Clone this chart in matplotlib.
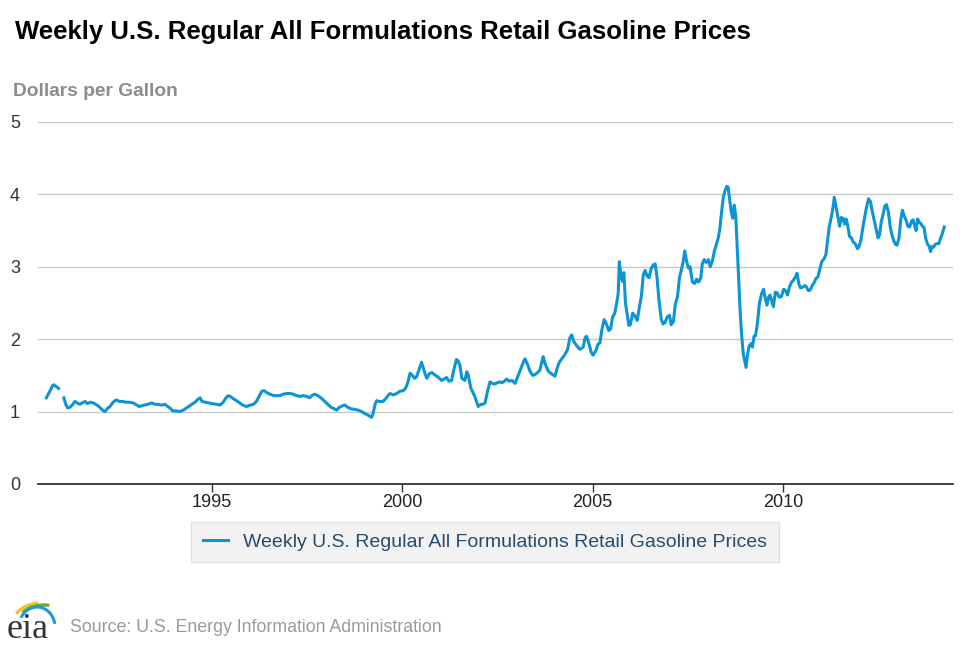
import numpy as np
import matplotlib
matplotlib.use("Agg")
import matplotlib.pyplot as plt
from matplotlib.patches import Arc

plt.rcParams["font.family"] = ["Liberation Sans", "DejaVu Sans"]

TITLE = "Weekly U.S. Regular All Formulations Retail Gasoline Prices"
Y_LABEL = "Dollars per Gallon"
SOURCE = "Source: U.S. Energy Information Administration"
LINE_COLOR = "#0b95d5"

# decimal year / dollars per gallon (NaN = gap in early 1991)
weeks = [
    1990.64, 1990.68, 1990.72, 1990.76, 1990.80, 1990.84, 1990.88, 1990.92, 1990.96, 1991.04,
    1991.10, 1991.15, 1991.20, 1991.26, 1991.32, 1991.39, 1991.45, 1991.52, 1991.58, 1991.66,
    1991.72, 1991.80, 1991.87, 1991.94, 1992.00, 1992.06, 1992.12, 1992.18, 1992.24, 1992.31,
    1992.38, 1992.44, 1992.49, 1992.56, 1992.65, 1992.72, 1992.80, 1992.92, 1993.02, 1993.08,
    1993.14, 1993.22, 1993.30, 1993.41, 1993.50, 1993.58, 1993.66, 1993.76, 1993.83, 1993.89,
    1993.96, 1994.06, 1994.14, 1994.24, 1994.35, 1994.46, 1994.55, 1994.62, 1994.68, 1994.73,
    1994.81, 1994.90, 1995.00, 1995.12, 1995.20, 1995.29, 1995.36, 1995.42, 1995.47, 1995.55,
    1995.64, 1995.72, 1995.80, 1995.90, 1996.00, 1996.08, 1996.16, 1996.24, 1996.30, 1996.36,
    1996.44, 1996.52, 1996.62, 1996.70, 1996.78, 1996.86, 1996.96, 1997.04, 1997.13, 1997.22,
    1997.30, 1997.40, 1997.48, 1997.56, 1997.64, 1997.70, 1997.78, 1997.88, 1997.96, 1998.04,
    1998.12, 1998.20, 1998.27, 1998.34, 1998.42, 1998.49, 1998.56, 1998.64, 1998.75, 1998.84,
    1998.93, 1999.02, 1999.10, 1999.19, 1999.23, 1999.28, 1999.32, 1999.40, 1999.49, 1999.56,
    1999.62, 1999.67, 1999.76, 1999.85, 1999.93, 2000.02, 2000.08, 2000.14, 2000.20, 2000.26,
    2000.32, 2000.37, 2000.44, 2000.50, 2000.55, 2000.60, 2000.64, 2000.70, 2000.77, 2000.84,
    2000.90, 2000.97, 2001.03, 2001.10, 2001.16, 2001.22, 2001.29, 2001.35, 2001.42, 2001.46,
    2001.51, 2001.56, 2001.64, 2001.69, 2001.73, 2001.80, 2001.90, 2001.99, 2002.06, 2002.12,
    2002.17, 2002.24, 2002.30, 2002.36, 2002.42, 2002.50, 2002.56, 2002.62, 2002.68, 2002.74,
    2002.80, 2002.88, 2002.96, 2003.02, 2003.09, 2003.16, 2003.22, 2003.28, 2003.35, 2003.42,
    2003.48, 2003.55, 2003.61, 2003.66, 2003.70, 2003.75, 2003.83, 2003.92, 2004.01, 2004.06,
    2004.12, 2004.20, 2004.27, 2004.34, 2004.40, 2004.45, 2004.50, 2004.58, 2004.66, 2004.75,
    2004.80, 2004.84, 2004.90, 2004.96, 2005.01, 2005.08, 2005.14, 2005.19, 2005.24, 2005.30,
    2005.36, 2005.42, 2005.47, 2005.52, 2005.58, 2005.63, 2005.67, 2005.70, 2005.74, 2005.78,
    2005.82, 2005.86, 2005.90, 2005.95, 2005.99, 2006.05, 2006.11, 2006.17, 2006.22, 2006.28,
    2006.33, 2006.38, 2006.43, 2006.48, 2006.54, 2006.60, 2006.64, 2006.69, 2006.74, 2006.80,
    2006.85, 2006.90, 2006.96, 2007.02, 2007.06, 2007.12, 2007.17, 2007.23, 2007.28, 2007.34,
    2007.38, 2007.42, 2007.47, 2007.52, 2007.56, 2007.62, 2007.68, 2007.73, 2007.78, 2007.84,
    2007.88, 2007.93, 2007.98, 2008.04, 2008.09, 2008.14, 2008.20, 2008.25, 2008.30, 2008.34,
    2008.38, 2008.43, 2008.47, 2008.52, 2008.56, 2008.60, 2008.64, 2008.68, 2008.72, 2008.76,
    2008.80, 2008.84, 2008.88, 2008.92, 2008.96, 2009.00, 2009.03, 2009.07, 2009.11, 2009.16,
    2009.20, 2009.24, 2009.28, 2009.33, 2009.38, 2009.44, 2009.49, 2009.53, 2009.58, 2009.62,
    2009.66, 2009.70, 2009.75, 2009.80, 2009.85, 2009.90, 2009.96, 2010.02, 2010.07, 2010.12,
    2010.17, 2010.22, 2010.28, 2010.33, 2010.37, 2010.42, 2010.46, 2010.52, 2010.58, 2010.62,
    2010.67, 2010.72, 2010.77, 2010.82, 2010.87, 2010.92, 2010.97, 2011.02, 2011.08, 2011.13,
    2011.17, 2011.22, 2011.27, 2011.31, 2011.35, 2011.40, 2011.44, 2011.49, 2011.53, 2011.58,
    2011.62, 2011.66, 2011.70, 2011.75, 2011.80, 2011.85, 2011.90, 2011.96, 2012.00, 2012.05,
    2012.10, 2012.15, 2012.20, 2012.25, 2012.30, 2012.35, 2012.40, 2012.45, 2012.50, 2012.54,
    2012.58, 2012.63, 2012.68, 2012.72, 2012.77, 2012.82, 2012.87, 2012.92, 2012.96, 2013.00,
    2013.05, 2013.10, 2013.14, 2013.19, 2013.24, 2013.28, 2013.33, 2013.38, 2013.42, 2013.46,
    2013.50, 2013.54, 2013.58, 2013.62, 2013.67, 2013.71, 2013.75, 2013.80, 2013.84, 2013.88,
    2013.92, 2013.96, 2014.00, 2014.05, 2014.10, 2014.14, 2014.19, 2014.24,
]

price = [
    1.19, 1.23, 1.27, 1.31, 1.36, 1.37, 1.35, 1.34, 1.32, np.nan,
    1.19, 1.10, 1.05, 1.06, 1.09, 1.14, 1.12, 1.10, 1.12, 1.14,
    1.11, 1.13, 1.12, 1.10, 1.08, 1.05, 1.02, 1.00, 1.04, 1.07,
    1.12, 1.15, 1.16, 1.14, 1.14, 1.13, 1.13, 1.12, 1.09, 1.07,
    1.08, 1.09, 1.10, 1.12, 1.10, 1.10, 1.09, 1.10, 1.07, 1.05,
    1.01, 1.01, 1.00, 1.02, 1.06, 1.10, 1.13, 1.17, 1.19, 1.14,
    1.13, 1.12, 1.11, 1.10, 1.09, 1.13, 1.19, 1.22, 1.21, 1.18,
    1.15, 1.12, 1.09, 1.07, 1.09, 1.10, 1.14, 1.22, 1.28, 1.29,
    1.26, 1.24, 1.22, 1.22, 1.22, 1.24, 1.25, 1.25, 1.24, 1.22,
    1.21, 1.22, 1.21, 1.19, 1.23, 1.24, 1.22, 1.18, 1.14, 1.10,
    1.06, 1.04, 1.02, 1.06, 1.08, 1.09, 1.06, 1.04, 1.03, 1.02,
    1.00, 0.97, 0.95, 0.92, 0.98, 1.10, 1.15, 1.14, 1.14, 1.18,
    1.22, 1.25, 1.23, 1.25, 1.28, 1.29, 1.32, 1.40, 1.53, 1.50,
    1.46, 1.48, 1.59, 1.68, 1.60, 1.51, 1.46, 1.52, 1.54, 1.51,
    1.49, 1.46, 1.43, 1.45, 1.47, 1.42, 1.43, 1.58, 1.72, 1.70,
    1.64, 1.46, 1.43, 1.55, 1.50, 1.32, 1.21, 1.07, 1.10, 1.10,
    1.12, 1.29, 1.41, 1.39, 1.38, 1.40, 1.41, 1.40, 1.42, 1.45,
    1.42, 1.43, 1.39, 1.47, 1.56, 1.66, 1.73, 1.66, 1.56, 1.50,
    1.51, 1.54, 1.57, 1.68, 1.76, 1.66, 1.56, 1.52, 1.49, 1.59,
    1.68, 1.74, 1.79, 1.86, 2.02, 2.06, 1.97, 1.91, 1.86, 1.89,
    2.02, 2.04, 1.94, 1.82, 1.78, 1.84, 1.93, 1.95, 2.13, 2.27,
    2.21, 2.12, 2.14, 2.30, 2.36, 2.50, 2.63, 3.07, 2.88, 2.80,
    2.92, 2.50, 2.36, 2.19, 2.20, 2.36, 2.32, 2.26, 2.42, 2.60,
    2.89, 2.95, 2.87, 2.85, 2.98, 3.03, 3.04, 2.86, 2.55, 2.28,
    2.21, 2.23, 2.31, 2.33, 2.20, 2.24, 2.48, 2.59, 2.85, 2.98,
    3.08, 3.22, 3.07, 2.98, 3.00, 2.79, 2.77, 2.83, 2.79, 2.84,
    3.04, 3.10, 3.06, 3.10, 3.00, 3.07, 3.22, 3.31, 3.40, 3.52,
    3.72, 3.95, 4.04, 4.11, 4.10, 3.92, 3.77, 3.67, 3.85, 3.70,
    3.25, 2.80, 2.34, 2.02, 1.79, 1.69, 1.61, 1.79, 1.90, 1.94,
    1.89, 2.04, 2.05, 2.22, 2.49, 2.63, 2.69, 2.58, 2.47, 2.58,
    2.61, 2.54, 2.45, 2.65, 2.64, 2.58, 2.59, 2.69, 2.67, 2.61,
    2.72, 2.78, 2.82, 2.86, 2.91, 2.76, 2.71, 2.72, 2.74, 2.72,
    2.67, 2.68, 2.74, 2.78, 2.84, 2.86, 2.97, 3.07, 3.11, 3.17,
    3.35, 3.56, 3.68, 3.80, 3.96, 3.82, 3.70, 3.56, 3.68, 3.67,
    3.59, 3.66, 3.58, 3.42, 3.40, 3.34, 3.32, 3.25, 3.28, 3.37,
    3.54, 3.69, 3.83, 3.94, 3.90, 3.76, 3.64, 3.52, 3.40, 3.44,
    3.61, 3.72, 3.84, 3.86, 3.76, 3.55, 3.43, 3.35, 3.31, 3.30,
    3.40, 3.66, 3.78, 3.70, 3.64, 3.56, 3.55, 3.63, 3.65, 3.57,
    3.50, 3.66, 3.62, 3.60, 3.56, 3.54, 3.40, 3.31, 3.29, 3.21,
    3.28, 3.27, 3.31, 3.32, 3.32, 3.39, 3.46, 3.55,
]

x_ticks = [1995, 2000, 2005, 2010]
y_ticks = [0, 1, 2, 3, 4, 5]

W, H = 970, 647
fig = plt.figure(figsize=(W / 100, H / 100), dpi=100)
fig.patch.set_facecolor("white")

# plot area in pixel terms: left 38, right 953, top (y=5) 122, bottom (y=0) 484
ax = fig.add_axes([38 / W, 1 - 484 / H, (953 - 38) / W, (484 - 122) / H])
ax.plot(weeks, price, color=LINE_COLOR, linewidth=2.2, solid_joinstyle="round",
        label=TITLE, zorder=3)

ax.set_xlim(1990.42, 2014.47)
ax.set_ylim(0, 5)
ax.set_xticks(x_ticks)
ax.set_yticks(y_ticks)
ax.set_xticklabels([str(t) for t in x_ticks])
ax.set_yticklabels([str(t) for t in y_ticks])

ax.grid(axis="y", color="#c8c8c8", linewidth=1.0, zorder=0)
for side in ["top", "right", "left"]:
    ax.spines[side].set_visible(False)
ax.spines["bottom"].set_color("#333333")
ax.spines["bottom"].set_linewidth(1.3)

ax.tick_params(axis="x", direction="out", length=6, width=1, color="#333333",
               labelsize=13, labelcolor="#222222", pad=1)
ax.tick_params(axis="y", length=0, labelsize=13, labelcolor="#333333", pad=13)

# title and axis caption
fig.text(15 / W, 1 - 32 / H, TITLE, fontsize=18.5, fontweight="bold",
         color="#000000", va="center", ha="left")
fig.text(13 / W, 1 - 91 / H, Y_LABEL, fontsize=13.8, fontweight="bold",
         color="#8c8c8c", va="center", ha="left")

# legend box below the plot
leg = ax.legend(loc="center", bbox_to_anchor=(485 / W, 1 - 542 / H),
                bbox_transform=fig.transFigure, frameon=True, fontsize=14,
                handlelength=1.3, handletextpad=0.8, borderpad=0.6,
                fancybox=False)
leg.get_frame().set_facecolor("#efefef")
leg.get_frame().set_edgecolor("#dcdcdc")
leg.get_frame().set_linewidth(1.0)
for t in leg.get_texts():
    t.set_color("#274b6d")

# source line with a small eia mark
fig.text(70 / W, 1 - 627 / H, SOURCE, fontsize=12.8, color="#9a9a9a",
         va="center", ha="left")

logo = fig.add_axes([4 / W, 1 - 645 / H, 54 / W, 45 / H])
logo.set_xlim(0, 54)
logo.set_ylim(0, 45)
logo.axis("off")
logo.add_patch(Arc((38, 22), 58, 40, theta1=100, theta2=160, color="#f2c318", linewidth=2.4))
logo.add_patch(Arc((40, 20), 54, 40, theta1=75, theta2=150, color="#6aaa2f", linewidth=2.4))
logo.add_patch(Arc((33, 18), 36, 40, theta1=10, theta2=150, color="#1c9ad6", linewidth=2.2))
logo.text(3, 15, "eia", fontsize=26, family=["Liberation Serif", "DejaVu Serif"],
          color="#333333", va="center", ha="left")

fig.savefig("out.png", dpi=100, facecolor="white")
